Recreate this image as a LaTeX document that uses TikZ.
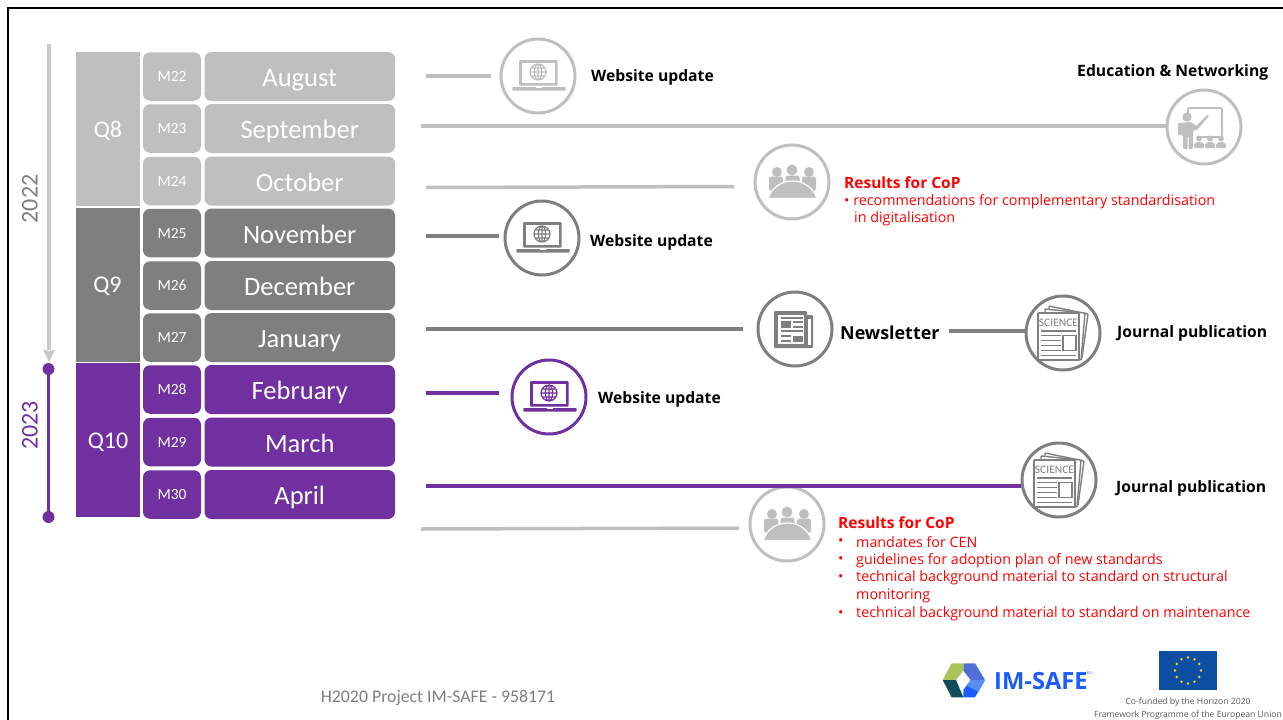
\documentclass[tikz,border=0pt]{standalone}
\usepackage{fontspec}
\usetikzlibrary{calc}
\setmainfont{Carlito}
\newfontfamily\seg{Open Sans}
\definecolor{lg}{HTML}{BFBFBF}
\definecolor{dg}{HTML}{7F7F7F}
\definecolor{pu}{HTML}{7030A0}
\definecolor{rd}{HTML}{FF0000}
\definecolor{sg}{HTML}{595959}
\definecolor{logolime}{HTML}{A9C55A}
\definecolor{logoteal}{HTML}{0F4C5C}
\definecolor{logoperi}{HTML}{4F6FD8}
\definecolor{logoblue}{HTML}{1A5CFF}
\definecolor{logomid}{HTML}{5A8FEF}
\definecolor{eublue}{HTML}{0B4EA2}
\definecolor{eustar}{HTML}{FFD21E}
\tikzset{
  qbox/.style={rectangle,minimum width=64pt,minimum height=154pt,inner sep=0pt,text=white,text height=16pt,text depth=0pt,font=\fontsize{24}{24}\selectfont},
  mbox/.style={rectangle,rounded corners=7pt,minimum width=58pt,minimum height=48.5pt,inner sep=0pt,text=white,text height=10pt,text depth=0pt,font=\fontsize{15.5}{16}\selectfont},
  monthbox/.style={rectangle,rounded corners=7pt,minimum width=190.5pt,minimum height=49pt,inner sep=0pt,text=white,text height=20pt,text depth=0pt,font=\fontsize{26.5}{27}\selectfont},
  ring/.style={circle,draw=#1,line width=3pt,fill=white,minimum size=74pt,inner sep=0pt},
  conn/.style={line width=3.5pt,draw=#1},
  bold label/.style={anchor=west,inner sep=0pt,text=black,font=\seg\bfseries\fontsize{15.7}{18}\selectfont},
  redhead/.style={anchor=west,inner sep=0pt,text=rd,font=\seg\bfseries\fontsize{15.5}{18}\selectfont},
  redtext/.style={anchor=west,inner sep=0pt,text=rd,font=\seg\fontsize{14.3}{16}\selectfont},
  pics/laptop/.style={code={
    \fill[#1,rounded corners=1pt] (-19,-16) rectangle (19.5,9.5);
    \fill[white] (-16,-13) rectangle (16.5,7);
    \draw[#1,line width=1.2pt] (0,-4) circle (8) (0,-4) ellipse (3.6 and 8) (-8,-4) -- (8,-4) (-7,-8) -- (7,-8) (-7,0) -- (7,0) (0,-12) -- (0,4);
    \fill[#1,rounded corners=.8pt] (-25.6,11) rectangle (27.7,14.5);
    \fill[white] (-2,11) rectangle (4,12.4);
  }},
  pics/meeting/.style={code={
    \fill[#1] (-15,-10) circle (5) (0,-12) circle (5.4) (17,-10) circle (5);
    \fill[#1,rounded corners=2.5pt] (-23,-5.5) rectangle (-9,9);
    \fill[#1,rounded corners=2.5pt] (10,-5.5) rectangle (24,9);
    \fill[#1,rounded corners=2.5pt] (-6.5,-6.5) rectangle (7.5,3);
    \fill[#1,draw=white,line width=1.2pt] (-24,16.5) .. controls (-20,5) and (-10,-1) .. (0.5,-1) .. controls (11,-1) and (21,5) .. (25,16.5) -- cycle;
  }},
  pics/teacher/.style={code={
    \draw[#1,line width=1.6pt,rounded corners=1pt] (-16,-13) -- (-16,-19) -- (18,-19) -- (18,10) -- (-5,10);
    \fill[#1] (-17,-10) circle (4.7);
    \fill[#1,rounded corners=1pt] (-26,-4) -- (-13,-5) -- (-8,-1) -- (3.5,-12.5) -- (5,-11) -- (-7,3) -- (-11,3) -- (-11,22) -- (-15.5,22) -- (-15.5,9) -- (-16.5,9) -- (-16.5,22) -- (-21,22) -- (-21,8) -- (-26,8) -- cycle;
    \foreach \u in {-5,6,17}{
      \fill[#1] (\u,11.5) circle (3);
      \fill[#1,rounded corners=1pt] (\u-5,21) -- (\u-5,17) -- (\u-2,15) -- (\u+2,15) -- (\u+5,17) -- (\u+5,21) -- cycle;
    }
  }},
  pics/newspaper/.style={code={
    \fill[#1,rounded corners=1.2pt] (-21,-18) rectangle (12,19);
    \fill[#1,rounded corners=1.2pt] (10,-14) rectangle (18,19);
    \fill[white] (-17,-14) rectangle (9,15);
    \fill[white] (13,-10) rectangle (15.5,16);
    \fill[#1] (-14,-8) rectangle (-4,-1);
    \fill[#1] (-2,7) rectangle (8,12.5);
    \draw[#1,line width=1.2pt] (-14,-11) -- (8,-11) (-2,-7) -- (8,-7) (-2,-2) -- (8,-2) (-14,2) -- (8,2) (-14,7) -- (-4,7) (-14,12) -- (-4,12);
  }},
  pics/journal/.style={code={
    \draw[#1,line width=1.4pt,fill=white,rounded corners=.8pt] (-14,-27) -- (25,-19) -- (19,25) -- (-14,25) -- cycle;
    \draw[#1,line width=1.4pt,fill=white,rounded corners=.8pt] (-18,-24) -- (22,-20) -- (18,27) -- (-18,27) -- cycle;
    \draw[#1,line width=1.6pt,fill=white,rounded corners=.8pt] (-25,-20) rectangle (16,27);
    \node[inner sep=0pt,text=#1,font=\fontsize{11.5}{12}\selectfont] at (-4.5,-10.5) {SCIENCE};
    \draw[#1,line width=1.2pt] (-22,-2) -- (13,-2) (-22,2.5) -- (-2,2.5) (-22,7.5) -- (-2,7.5) (-22,12.5) -- (-2,12.5) (-22,17.5) -- (-2,17.5) (-22,22.5) -- (13,22.5);
    \draw[#1,line width=1.4pt] (0,2.5) rectangle (13,17.5);
  }}
}
\begin{document}
\begin{tikzpicture}[x=1pt,y=-1pt]
\useasboundingbox (0,0) rectangle (1283,720);
\fill[white] (0,0) rectangle (1283,720);
% frame
\coordinate (frameTL) at (8,8);
\coordinate (frameTR) at (1283,8);
\coordinate (frameBL) at (8,720);
\draw[black,line width=2.4pt] (frameBL) -- (frameTL) -- (frameTR);
% quarters
\node[qbox,fill=lg] (q8) at (108,129) {Q8};
\node[qbox,fill=dg] (q9) at (107.5,284.5) {Q9};
\node[qbox,fill=pu] (q10) at (108,440) {Q10};
% months
\foreach \n/\m/\y/\c/\mn in {m22/M22/76.5/lg/August,m23/M23/128.5/lg/September,m24/M24/181/lg/October,
  m25/M25/233/dg/November,m26/M26/285.5/dg/December,m27/M27/337.5/dg/January,
  m28/M28/389.5/pu/February,m29/M29/442/pu/March,m30/M30/494.5/pu/April}{
  \node[mbox,fill=\c] (\n) at (172,\y) {\m};
  \node[monthbox,fill=\c] (mon\n) at (299.75,\y) {\mn};
}
% years
\coordinate (y22a) at (49,44);
\coordinate (y22b) at (49,362);
\fill[lg!85!white] (47.2,44) rectangle (50.8,351) (43,350) -- (55,350) -- (49,362) -- cycle;
\coordinate (y23a) at (48.5,369);
\coordinate (y23b) at (48.5,517);
\draw[pu,line width=3pt] (y23a) -- (y23b);
\fill[pu] (y23a) circle (6) (y23b) circle (6);
\node[rotate=90,inner sep=0pt,text=dg,font=\fontsize{24}{24}\selectfont] (l2022) at (30,199) {2022};
\node[rotate=90,inner sep=0pt,text=pu,font=\fontsize{24}{24}\selectfont] (l2023) at (30,425.5) {2023};
% circles under lines
\node[ring=lg] (res2) at (787,524) {};
\pic at (787,524) {meeting=lg};
% connectors
\coordinate (a1) at (426,76); \coordinate (a1e) at (491,76);
\coordinate (a2) at (421,126); 
\coordinate (a3) at (426,187.5); \coordinate (a3e) at (734,186.5);
\coordinate (a4) at (426,236); \coordinate (a4e) at (499,236);
\coordinate (a5) at (426,329); \coordinate (a5e) at (743,329);
\coordinate (a6) at (949,331);
\coordinate (a7) at (426,393); \coordinate (a7e) at (499,393);
\coordinate (a8) at (426,486);
\coordinate (a9) at (421,529); \coordinate (a9e) at (739,528);
\node[ring=lg] (web1) at (538,76) {};
\node[ring=lg] (edu) at (1204,127) {};
\node[ring=lg] (res1) at (792,182) {};
\node[ring=dg] (web2) at (542,238) {};
\node[ring=dg] (news) at (795,329) {};
\node[ring=dg] (jour1) at (1063,333) {};
\node[ring=pu] (web3) at (549,397) {};
\node[ring=dg] (jour2) at (1059,480) {};
\draw[conn=lg] (a1) -- (a1e);
\draw[conn=lg] (a2) -- (a2 -| edu.west);
\draw[conn=lg] (a3) -- (a3e);
\draw[conn=dg] (a4) -- (a4e);
\draw[conn=dg] (a5) -- (a5e);
\draw[conn=dg] (a6) -- (a6 -| jour1.west);
\draw[conn=pu] (a7) -- (a7e);
\draw[conn=pu] (a8) -- (a8 -| jour2.west);
\draw[conn=lg] (a9) -- (a9e);
% icons
\pic at (538,76) {laptop=lg};
\pic at (1204,127) {teacher=lg};
\pic at (792,182) {meeting=lg};
\pic at (542,238) {laptop=dg};
\pic at (795,329) {newspaper=dg};
\pic at (1063,333) {journal=dg};
\pic at (549,397) {laptop=pu};
\pic at (1059,480) {journal=dg};
% labels
\node[bold label] (t1) at (591,77.5) {Website update};
\node[bold label] (t2) at (1077,72) {Education \& Networking};
\node[bold label] (t3) at (590,242) {Website update};
\node[bold label,font=\seg\bfseries\fontsize{17.9}{20}\selectfont] (t4) at (840,332.5) {Newsletter};
\node[bold label] (t5) at (1117,333) {Journal publication};
\node[bold label] (t6) at (598,399) {Website update};
\node[bold label] (t7) at (1116,488) {Journal publication};
% red text
\node[redhead] (r1) at (844,182.5) {Results for CoP};
\node[redtext] (r1a) at (844,201.5) {• recommendations for complementary standardisation};
\node[redtext] (r1b) at (854,218.5) {in digitalisation};
\node[redhead] (r2) at (838,523) {Results for CoP};
\foreach \n/\y/\t in {a/542.5/mandates for CEN,b/560.5/guidelines for adoption plan of new standards,c/578/technical background material to standard on structural,e/614/technical background material to standard on maintenance}{
  \node[redtext] (r2\n b) at (838,\y) {•};
  \node[redtext] (r2\n) at (856,\y) {\t};
}
\node[redtext] (r2d) at (856,596) {monitoring};
% footer
\node[inner sep=0pt,text=dg,font=\fontsize{17.8}{20}\selectfont] (foot) at (438,698) {H2020 Project IM-SAFE - 958171};
% logo
\begin{scope}[shift={(920,630)},x=.3333pt,y=-.3333pt]
\fill[logolime] (68,150) -- (95,100) -- (133,100) -- (130,122) -- (108,150) -- cycle;
\fill[logoteal] (68,150) -- (108,150) -- (130,202) -- (95,202) -- cycle;
\fill[logoperi] (133,100) -- (165,100) -- (195,150) -- (152,150) -- (130,122) -- cycle;
\fill[logoblue] (130,202) -- (165,202) -- (195,150) -- (152,150) -- (130,180) -- cycle;
\fill[logomid] (195,150) -- (152,150) -- (140,167) -- (175,185) -- cycle;
\end{scope}
\node[inner sep=0pt,anchor=west,text=logoblue,font=\seg\bfseries\fontsize{23.7}{24}\selectfont] (logo) at (994,681) {IM-SAFE};
\node[inner sep=0pt,anchor=west,text=logoblue,font=\seg\fontsize{4}{5}\selectfont] (logoeu) at (1087,673) {EU};
% flag
\node[rectangle,fill=eublue,minimum width=58pt,minimum height=39pt,inner sep=0pt] (flag) at (1188,670.5) {};
\foreach \a in {0,30,...,330}{\fill[eustar] ($(flag)+(\a:13)$) circle (1.3);}
\node[inner sep=0pt,text=sg,font=\seg\fontsize{8.6}{10}\selectfont] (cf1) at (1188,702) {Co-funded by the Horizon 2020};
\node[inner sep=0pt,text=sg,font=\seg\fontsize{8.6}{10}\selectfont] (cf2) at (1188,715) {Framework Programme of the European Union};
\end{tikzpicture}
\end{document}
